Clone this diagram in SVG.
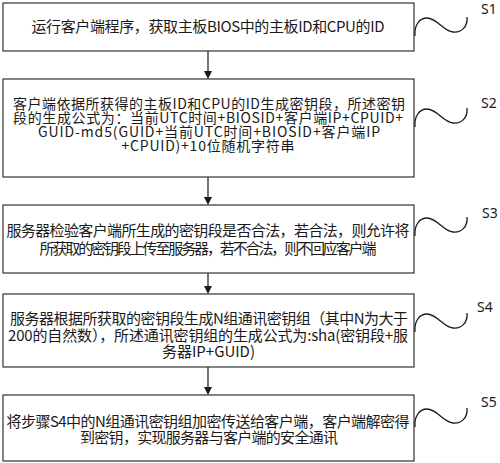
<svg xmlns="http://www.w3.org/2000/svg" width="500" height="463" viewBox="0 0 500 463">
<style>
.box{fill:#fff;stroke:#333;stroke-width:1.2}
.t{font-family:"Noto Sans CJK SC","Noto Sans",sans-serif;font-size:15px;fill:#1a1a1a;text-anchor:middle}
.t2{font-size:14px}
.lbl{font-family:"Noto Sans","Open Sans",sans-serif;font-size:14px;fill:#1a1a1a}
.sq{fill:none;stroke:#1a1a1a;stroke-width:1.3}
.ar{stroke:#1a1a1a;stroke-width:1.2}
</style>
<defs>
<path id="squig" d="M0,0 C-1,-10 4,-18 12,-18 C22,-18 28,-5 38,-4 C46,-3 53,-9 52,-19"/>
</defs>
<rect width="500" height="463" fill="#fff"/>
<g id="connectors">
<path class="ar" d="M208,51 V71"/><path d="M204,71 L212,71 L208,79 Z" fill="#1a1a1a"/>
<path class="ar" d="M208,177 V197"/><path d="M204,197 L212,197 L208,205 Z" fill="#1a1a1a"/>
<path class="ar" d="M208,273 V286"/><path d="M204,286 L212,286 L208,294 Z" fill="#1a1a1a"/>
<path class="ar" d="M208,367 V387"/><path d="M204,387 L212,387 L208,395 Z" fill="#1a1a1a"/>
</g>
<g id="S1">
<rect class="box" x="3" y="3" width="411" height="48"/>
<text class="t" x="208" y="32" textLength="353">运行客户端程序，获取主板BIOS中的主板ID和CPU的ID</text>
<use href="#squig" class="sq" x="415" y="36"/>
<text class="lbl" x="481" y="14">S1</text>
</g>
<g id="S2">
<rect class="box" x="3" y="79" width="411" height="98"/>
<text class="t t2" x="209" y="109" textLength="392">客户端依据所获得的主板ID和CPU的ID生成密钥段，所述密钥</text>
<text class="t t2" x="208" y="123" textLength="390">段的生成公式为：当前UTC时间+BIOSID+客户端IP+CPUID+</text>
<text class="t t2" x="209" y="137" textLength="342">GUID-md5(GUID+当前UTC时间+BIOSID+客户端IP</text>
<text class="t t2" x="208" y="151" textLength="173">+CPUID)+10位随机字符串</text>
<use href="#squig" class="sq" x="415" y="127"/>
<text class="lbl" x="481" y="108">S2</text>
</g>
<g id="S3">
<rect class="box" x="3" y="205" width="411" height="68"/>
<text class="t" x="208" y="235.5" textLength="403">服务器检验客户端所生成的密钥段是否合法，若合法，则允许将</text>
<text class="t" x="208" y="254" textLength="337">所获取的密钥段上传至服务器，若不合法，则不回应客户端</text>
<use href="#squig" class="sq" x="415" y="236"/>
<text class="lbl" x="482" y="218">S3</text>
</g>
<g id="S4">
<rect class="box" x="3" y="294" width="411" height="73"/>
<text class="t" x="209" y="324" textLength="398">服务器根据所获取的密钥段生成N组通讯密钥组（其中N为大于</text>
<text class="t" x="208" y="341" textLength="400">200的自然数），所述通讯密钥组的生成公式为:sha(密钥段+服</text>
<text class="t" x="208.5" y="357" textLength="93">务器IP+GUID)</text>
<use href="#squig" class="sq" x="415" y="332"/>
<text class="lbl" x="477" y="312">S4</text>
</g>
<g id="S5">
<rect class="box" x="3" y="395" width="411" height="66"/>
<text class="t" x="208" y="427" textLength="403">将步骤S4中的N组通讯密钥组加密传送给客户端，客户端解密得</text>
<text class="t" x="209" y="443" textLength="258">到密钥，实现服务器与客户端的安全通讯</text>
<use href="#squig" class="sq" x="415" y="427"/>
<text class="lbl" x="481" y="407">S5</text>
</g>
</svg>
